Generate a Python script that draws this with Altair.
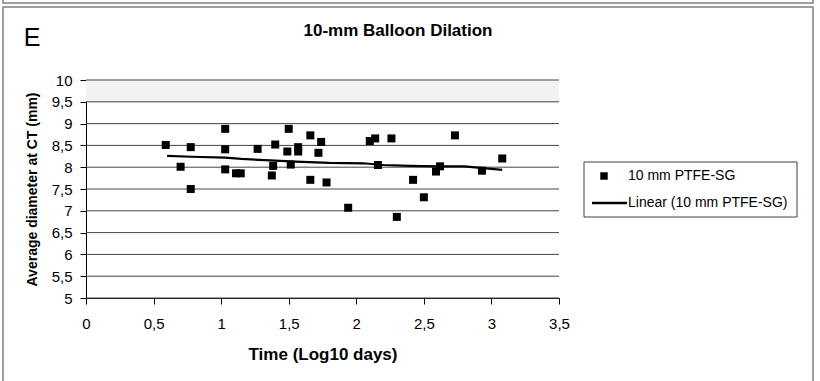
import altair as alt
import pandas as pd

# Data
time_log = [0.59, 0.70, 0.775, 0.775, 1.03, 1.03, 1.03, 1.11, 1.145, 1.27,
            1.40, 1.385, 1.375, 1.50, 1.49, 1.57, 1.57, 1.515, 1.66, 1.74,
            1.72, 1.66, 1.78, 1.94, 2.10, 2.14, 2.26, 2.16, 2.30, 2.42,
            2.50, 2.73, 2.62, 2.59, 2.93, 3.08]
diameter = [8.51, 8.01, 8.46, 7.50, 8.88, 8.41, 7.95, 7.86, 7.86, 8.42,
            8.52, 8.03, 7.81, 8.88, 8.36, 8.46, 8.36, 8.06, 8.73, 8.58,
            8.33, 7.71, 7.65, 7.07, 8.60, 8.66, 8.66, 8.05, 6.86, 7.71,
            7.31, 8.73, 8.02, 7.90, 7.92, 8.20]
trend_x = [0.60, 0.78, 1.03, 1.15, 1.40, 1.55, 1.80, 2.05, 2.20, 2.40, 2.60, 2.80, 3.08]
trend_y = [8.26, 8.24, 8.22, 8.19, 8.15, 8.13, 8.10, 8.09, 8.05, 8.03, 8.02, 8.02, 7.94]
x_ticks = [0, 0.5, 1, 1.5, 2, 2.5, 3, 3.5]
y_ticks = [5, 5.5, 6, 6.5, 7, 7.5, 8, 8.5, 9, 9.5, 10]
band = {"x0": 0, "x1": 3.5, "y0": 9.5, "y1": 10}
series_names = ["10 mm PTFE-SG", "Linear (10 mm PTFE-SG)"]
chart_title = "10-mm Balloon Dilation"
panel_letter = "E"

FONT = "Liberation Sans"
W, H = 473, 218
LEFT, TOP = 86, 80

pts = pd.DataFrame({"t": time_log, "d": diameter})
trend = pd.DataFrame({"t": trend_x, "d": trend_y})
grid = pd.DataFrame({"v": y_ticks})
band_df = pd.DataFrame([band])
one = pd.DataFrame({"k": [0]})

xscale = alt.Scale(domain=[0, 3.5], nice=False, zero=False)
yscale = alt.Scale(domain=[5, 10], nice=False, zero=False)

label_expr = "replace(format(datum.value, '~g'), '.', ',')"

x_axis = alt.Axis(values=x_ticks, title="Time (Log10 days)", grid=False,
                  labelExpr=label_expr, labelOverlap=False,
                  labelFontSize=15, titleFontSize=17, titleFontWeight="bold",
                  tickSize=6, labelPadding=12, titlePadding=15,
                  domainColor="black", tickColor="black", labelColor="black",
                  titleColor="black", labelFont=FONT, titleFont=FONT)
y_axis = alt.Axis(values=y_ticks, title="Average diameter at CT (mm)", grid=False,
                  labelExpr=label_expr, labelOverlap=False,
                  labelFontSize=15, titleFontSize=14, titleFontWeight="bold",
                  tickSize=6, labelPadding=8, titlePadding=12,
                  domainColor="black", tickColor="black", labelColor="black",
                  titleColor="black", labelFont=FONT, titleFont=FONT)

band_layer = alt.Chart(band_df).mark_rect(color="#f2f2f2").encode(
    x=alt.X("x0:Q", scale=xscale, axis=x_axis),
    x2="x1:Q",
    y=alt.Y("y0:Q", scale=yscale, axis=y_axis),
    y2="y1:Q",
)

grid_layer = alt.Chart(grid).mark_rule(color="#444444", strokeWidth=1).encode(
    y=alt.Y("v:Q", scale=yscale, axis=y_axis),
    x=alt.value(0), x2=alt.value(W),
)

points_layer = alt.Chart(pts).mark_square(size=64, color="black", opacity=1).encode(
    x=alt.X("t:Q", scale=xscale, axis=x_axis),
    y=alt.Y("d:Q", scale=yscale, axis=y_axis),
)

trend_layer = alt.Chart(trend).mark_line(color="black", strokeWidth=2.2).encode(
    x=alt.X("t:Q", scale=xscale, axis=x_axis),
    y=alt.Y("d:Q", scale=yscale, axis=y_axis),
)

# Decorations in pixel space (relative to plot origin)
frame = alt.Chart(one).mark_rect(fill=None, stroke="#808080", strokeWidth=1.5).encode(
    x=alt.value(3 - LEFT), x2=alt.value(813 - LEFT),
    y=alt.value(7 - TOP), y2=alt.value(420 - TOP),
)
prev_frame = alt.Chart(one).mark_rect(fill=None, stroke="#808080", strokeWidth=1.5).encode(
    x=alt.value(3 - LEFT), x2=alt.value(813 - LEFT),
    y=alt.value(-20 - TOP), y2=alt.value(3 - TOP),
)

title_layer = alt.Chart(one).mark_text(
    text=chart_title, font=FONT, fontSize=17, fontWeight="bold", color="black",
    align="center", baseline="middle").encode(
    x=alt.value(398 - LEFT), y=alt.value(31 - TOP))

letter_layer = alt.Chart(one).mark_text(
    text=panel_letter, font=FONT, fontSize=25, color="black",
    align="center", baseline="middle").encode(
    x=alt.value(32 - LEFT), y=alt.value(38 - TOP))

legend_box = alt.Chart(one).mark_rect(fill="white", stroke="#404040", strokeWidth=1).encode(
    x=alt.value(584 - LEFT), x2=alt.value(797 - LEFT),
    y=alt.value(162 - TOP), y2=alt.value(217 - TOP),
)
legend_sq = alt.Chart(one).mark_square(size=56, color="black", opacity=1).encode(
    x=alt.value(604 - LEFT), y=alt.value(176 - TOP))
legend_ln = alt.Chart(one).mark_rule(color="black", strokeWidth=2.4).encode(
    x=alt.value(592 - LEFT), x2=alt.value(627 - LEFT), y=alt.value(203 - TOP))
legend_t1 = alt.Chart(one).mark_text(
    text=series_names[0], font=FONT, fontSize=14, color="black",
    align="left", baseline="middle").encode(
    x=alt.value(628 - LEFT), y=alt.value(176 - TOP))
legend_t2 = alt.Chart(one).mark_text(
    text=series_names[1], font=FONT, fontSize=14, color="black",
    align="left", baseline="middle").encode(
    x=alt.value(628 - LEFT), y=alt.value(203 - TOP))

chart = alt.layer(
    band_layer, grid_layer, trend_layer, points_layer,
    frame, prev_frame, title_layer, letter_layer,
    legend_box, legend_sq, legend_ln, legend_t1, legend_t2,
).properties(
    width=W, height=H,
    autosize=alt.AutoSizeParams(type="none"),
    padding={"left": LEFT, "top": TOP, "right": 820 - LEFT - W, "bottom": 381 - TOP - H},
    background="white",
).configure_view(stroke=None).configure_text(font=FONT).configure_axis(
    labelOverlap=False, labelFlush=False, labelBound=False)

chart.save("out.html", embed_options={"renderer": "svg", "actions": False})
